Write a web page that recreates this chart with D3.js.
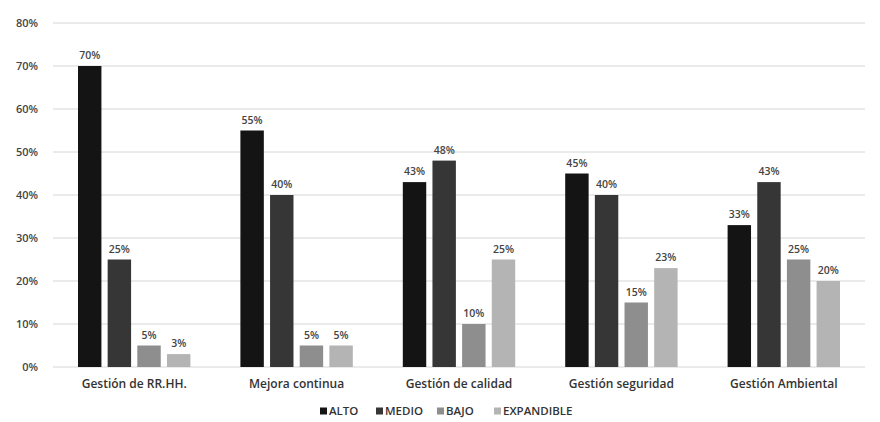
<!DOCTYPE html>
<html>
<head>
<meta charset="utf-8">
<script src="https://cdn.jsdelivr.net/npm/d3@7"></script>
<style>
  html, body { margin: 0; padding: 0; background: #fff; }
  svg { display: block; font-family: "Open Sans", "Liberation Sans", sans-serif; }
</style>
</head>
<body>
<svg id="chart" width="880" height="422"></svg>
<script>
// Categories, series and values (percent)
const categories = ["Gestión de RR.HH.", "Mejora continua", "Gestión de calidad", "Gestión seguridad", "Gestión Ambiental"];
const seriesNames = ["ALTO", "MEDIO", "BAJO", "EXPANDIBLE"];
const alto       = [70, 55, 43, 45, 33];
const medio      = [25, 40, 48, 40, 43];
const bajo       = [5, 5, 10, 15, 25];
const expandible = [3, 5, 25, 23, 20];
const yTicks = [0, 10, 20, 30, 40, 50, 60, 70, 80];
const seriesColors = ["#141414", "#363636", "#8e8e8e", "#b4b4b4"];

const values = [alto, medio, bajo, expandible];
const rows = categories.map((c, i) => ({
  category: c,
  items: seriesNames.map((s, j) => ({ series: s, value: values[j][i], color: seriesColors[j] }))
}));

const svg = d3.select("#chart");
const margin = { left: 53, right: 15, top: 23, bottom: 55 };
const width = 880, height = 422;
const plotH = height - margin.top - margin.bottom; // 0% baseline at 367

const x0 = d3.scaleBand().domain(categories).range([margin.left, width - margin.right]).padding(0);
const x1 = d3.scaleBand().domain(seriesNames).range([25, x0.bandwidth() - 25]).paddingInner(0.21);
const y = d3.scaleLinear().domain([0, 80]).range([margin.top + plotH, margin.top]);

// Gridlines
svg.append("g")
  .selectAll("line")
  .data(yTicks)
  .join("line")
  .attr("x1", margin.left)
  .attr("x2", width - margin.right)
  .attr("y1", d => y(d))
  .attr("y2", d => y(d))
  .attr("stroke", "#d6d6d6")
  .attr("stroke-width", 1);

// Y axis labels
const yAxis = d3.axisLeft(y).tickValues(yTicks).tickFormat(d => d + "%").tickSize(0).tickPadding(0);
const yg = svg.append("g").attr("transform", `translate(38,0)`).call(yAxis);
yg.select(".domain").remove();
yg.selectAll("text")
  .attr("font-size", 11)
  .attr("font-weight", 600)
  .attr("fill", "#444")
  .attr("font-family", "'Open Sans', 'Liberation Sans', sans-serif");

// Bars
const groups = svg.append("g")
  .selectAll("g")
  .data(rows)
  .join("g")
  .attr("transform", d => `translate(${x0(d.category)},0)`);

groups.selectAll("rect")
  .data(d => d.items)
  .join("rect")
  .attr("x", d => x1(d.series))
  .attr("y", d => y(d.value))
  .attr("width", x1.bandwidth())
  .attr("height", d => y(0) - y(d.value))
  .attr("fill", d => d.color);

// Value labels
groups.selectAll("text")
  .data(d => d.items)
  .join("text")
  .attr("x", d => x1(d.series) + x1.bandwidth() / 2)
  .attr("y", d => y(d.value) - 7)
  .attr("text-anchor", "middle")
  .attr("font-size", 10.5)
  .attr("font-weight", 600)
  .attr("fill", "#444")
  .text(d => d.value + "%");

// Category axis labels
const xAxis = d3.axisBottom(x0).tickSize(0).tickPadding(0);
const xg = svg.append("g").attr("transform", `translate(0,${y(0) + 21})`).call(xAxis);
xg.select(".domain").remove();
xg.selectAll("text")
  .attr("font-size", 12)
  .attr("font-weight", 600)
  .attr("fill", "#333")
  .attr("dy", 0)
  .attr("font-family", "'Open Sans', 'Liberation Sans', sans-serif");

// Legend
const legendX = [320, 376, 437, 494];
const legend = svg.append("g")
  .selectAll("g")
  .data(seriesNames)
  .join("g")
  .attr("transform", (d, i) => `translate(${legendX[i]},411)`);
legend.append("rect")
  .attr("x", 0).attr("y", -3.5)
  .attr("width", 7).attr("height", 7)
  .attr("fill", (d, i) => seriesColors[i]);
legend.append("text")
  .attr("x", 9).attr("y", 0)
  .attr("dy", "0.35em")
  .attr("font-size", 11.5)
  .attr("font-weight", 600)
  .attr("fill", "#333")
  .text(d => d);
</script>
</body>
</html>
